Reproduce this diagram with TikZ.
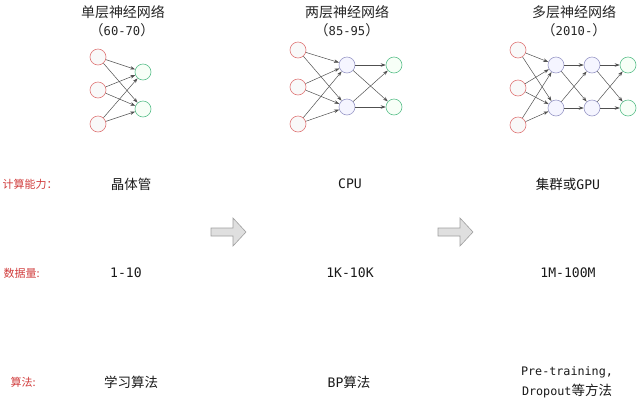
\documentclass[tikz,border=0pt]{standalone}
\usepackage{fontspec}
\setmainfont{Noto Sans CJK SC}
\newfontfamily\latmono[Scale=0.87]{DejaVu Sans Mono}
\newfontfamily\latmonob[Scale=0.97]{DejaVu Sans Mono}
\usetikzlibrary{arrows.meta}
\definecolor{inred}{HTML}{E07878}
\definecolor{hidblue}{HTML}{9A9AC8}
\definecolor{outgreen}{HTML}{5CC08C}
\definecolor{lblred}{HTML}{D03C3C}
\definecolor{edgegray}{HTML}{505050}
\tikzset{
  neuron/.style={circle,minimum size=16pt,inner sep=0pt,line width=0.6pt},
  inn/.style={neuron,draw=inred,fill=gray!5},
  hid/.style={neuron,draw=hidblue,fill=blue!4},
  outn/.style={neuron,draw=outgreen,fill=green!3},
  conn/.style={draw=edgegray,line width=0.5pt,-{Stealth[length=5pt,width=3.5pt]}},
  title/.style={font=\fontsize{14}{16}\selectfont,text=black!85},
  rowlbl/.style={font=\fontsize{11}{13}\selectfont,text=lblred,anchor=west},
  val/.style={font=\fontsize{13.5}{17}\selectfont,text=black!90},
  bigarrow/.style={draw=gray!75,fill=gray!25,line width=0.6pt,line join=miter}
}
\begin{document}
\begin{tikzpicture}[x=1pt,y=-1pt]
\useasboundingbox (0,0) rectangle (638,400);
% titles
\node[title] (t1) at (123,12) {单层神经网络};
\node[title] (y1) at (122,30) {（{\latmono 60-70}）};
\node[title] (t2) at (347,12) {两层神经网络};
\node[title] (y2) at (347,30) {（{\latmono 85-95}）};
\node[title] (t3) at (574,12) {多层神经网络};
\node[title] (y3) at (574,30) {（{\latmono 2010-}）};
% network 1
\node[inn] (a1) at (98,57) {};
\node[inn] (a2) at (98,90) {};
\node[inn] (a3) at (98,124) {};
\node[outn] (b1) at (143,72) {};
\node[outn] (b2) at (143,109) {};
\foreach \i in {1,2,3}{\foreach \j in {1,2}{\draw[conn] (a\i) -- (b\j);}}
% network 2
\node[inn] (c1) at (298,50) {};
\node[inn] (c2) at (298,87) {};
\node[inn] (c3) at (298,124) {};
\node[hid] (d1) at (347,65) {};
\node[hid] (d2) at (347,107) {};
\node[outn] (e1) at (394,65) {};
\node[outn] (e2) at (394,107) {};
\foreach \i in {1,2,3}{\foreach \j in {1,2}{\draw[conn] (c\i) -- (d\j);}}
\foreach \i in {1,2}{\foreach \j in {1,2}{\draw[conn] (d\i) -- (e\j);}}
% network 3
\node[inn] (f1) at (518,50) {};
\node[inn] (f2) at (518,88) {};
\node[inn] (f3) at (518,125) {};
\node[hid] (g1) at (556,65) {};
\node[hid] (g2) at (556,108) {};
\node[hid] (h1) at (592,65) {};
\node[hid] (h2) at (592,108) {};
\node[outn] (k1) at (628,65) {};
\node[outn] (k2) at (628,108) {};
\foreach \i in {1,2,3}{\foreach \j in {1,2}{\draw[conn] (f\i) -- (g\j);}}
\foreach \i in {1,2}{\foreach \j in {1,2}{\draw[conn] (g\i) -- (h\j);}}
\foreach \i in {1,2}{\foreach \j in {1,2}{\draw[conn] (h\i) -- (k\j);}}
% row labels
\node[rowlbl] (r1) at (-1,184) {计算能力：};
\node[rowlbl] (r2) at (0,273) {数据量:};
\node[rowlbl] (r3) at (7,382) {算法:};
% values
\node[val] (v11) at (131,184) {晶体管};
\node[val] (v12) at (350,184) {{\latmonob CPU}};
\node[val] (v13) at (568,184) {集群或{\latmonob GPU}};
\node[val] (v21) at (126,273) {{\latmonob 1-10}};
\node[val] (v22) at (350,273) {{\latmonob 1K-10K}};
\node[val] (v23) at (568,273) {{\latmonob 1M-100M}};
\node[val] (v31) at (131,382) {学习算法};
\node[val] (v32) at (349,382) {{\latmonob BP}算法};
\node[val,align=center,font=\fontsize{13.5}{20}\selectfont] (v33) at (567,382) {{\latmono Pre-training,}\\{\latmono Dropout}等方法};
% big arrows
\foreach \sx in {211,438}{
  \draw[bigarrow,shift={(\sx,232)}] (0,-4) -- (22,-4) -- (22,-14) -- (35,0) -- (22,14) -- (22,4) -- (0,4) -- cycle;
}
\end{tikzpicture}
\end{document}
